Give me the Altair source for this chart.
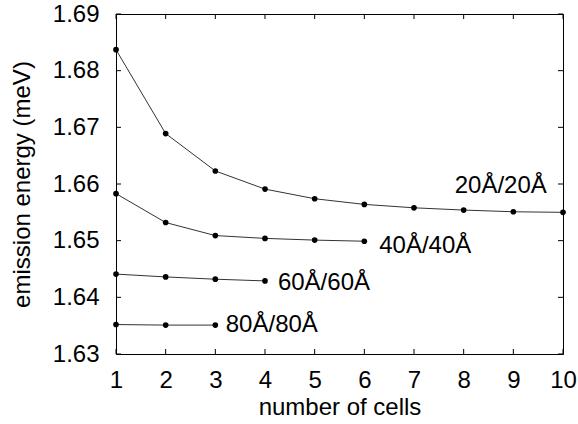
import altair as alt
import pandas as pd

# data
cells_20 = [1, 2, 3, 4, 5, 6, 7, 8, 9, 10]
energy_20 = [1.6837, 1.6689, 1.6623, 1.6591, 1.6574, 1.6564, 1.6558, 1.6554, 1.6551, 1.6550]
cells_40 = [1, 2, 3, 4, 5, 6]
energy_40 = [1.6583, 1.6532, 1.6509, 1.6504, 1.6501, 1.6499]
cells_60 = [1, 2, 3, 4]
energy_60 = [1.6441, 1.6436, 1.6432, 1.6429]
cells_80 = [1, 2, 3]
energy_80 = [1.6352, 1.6351, 1.6351]

series_names = ["20Å/20Å", "40Å/40Å", "60Å/60Å", "80Å/80Å"]
label_x = [7.82, 6.30, 4.26, 3.21]
label_y = [1.6584, 1.6478, 1.6413, 1.6338]

x_ticks = [1, 2, 3, 4, 5, 6, 7, 8, 9, 10]
y_ticks = [1.63, 1.64, 1.65, 1.66, 1.67, 1.68, 1.69]

rows = []
for name, xs, ys in zip(series_names,
                        [cells_20, cells_40, cells_60, cells_80],
                        [energy_20, energy_40, energy_60, energy_80]):
    for xv, yv in zip(xs, ys):
        rows.append({"series": name, "cells": xv, "energy": yv})
df = pd.DataFrame(rows)
labels = pd.DataFrame({"series": series_names, "x": label_x, "y": label_y})
xt = pd.DataFrame({"xt": x_ticks})
yt = pd.DataFrame({"yt": y_ticks})

FONT = "Liberation Sans"
FS = 24
W, H, TL = 447, 340, 5
xscale = alt.Scale(domain=[1, 10], nice=False, zero=False)
yscale = alt.Scale(domain=[1.63, 1.69], nice=False, zero=False)

x_axis = alt.Axis(orient="bottom", values=x_ticks, ticks=False, domain=False, grid=False,
                  labelFontSize=FS, labelFont=FONT, labelColor="black", labelFlush=False,
                  labelOverlap=False, labelPadding=14, labelBaseline="top",
                  title="number of cells", titleFont=FONT, titleFontSize=FS,
                  titleFontWeight="normal", titleColor="black",
                  titleBaseline="alphabetic", titleY=60)
y_axis = alt.Axis(orient="left", values=y_ticks, ticks=False, domain=False, grid=False,
                  labelFontSize=FS, labelFont=FONT, labelColor="black", labelFlush=False,
                  labelOverlap=False, labelPadding=17, format=".2f",
                  title="emission energy (meV)", titleFont=FONT, titleFontSize=FS,
                  titleFontWeight="normal", titleColor="black", titleAngle=270,
                  titleBaseline="alphabetic", titleAlign="center", titleX=-87, titleY=170)

lines = alt.Chart(df).mark_line(color="#333333", strokeWidth=1).encode(
    x=alt.X("cells:Q", scale=xscale, axis=x_axis),
    y=alt.Y("energy:Q", scale=yscale, axis=y_axis),
    detail="series:N",
)
points = alt.Chart(df).mark_circle(color="black", size=32, opacity=1).encode(
    x=alt.X("cells:Q", scale=xscale),
    y=alt.Y("energy:Q", scale=yscale),
)
texts = alt.Chart(labels).mark_text(align="left", baseline="alphabetic", font=FONT,
                                    fontSize=FS, color="black").encode(
    x=alt.X("x:Q", scale=xscale),
    y=alt.Y("y:Q", scale=yscale),
    text="series:N",
)

# inward ticks on all four sides
tick_style = dict(color="black", strokeWidth=1)
xt_bottom = alt.Chart(xt).mark_rule(**tick_style).encode(
    x=alt.X("xt:Q", scale=xscale), y=alt.value(H), y2=alt.value(H - TL))
xt_top = alt.Chart(xt).mark_rule(**tick_style).encode(
    x=alt.X("xt:Q", scale=xscale), y=alt.value(0), y2=alt.value(TL))
yt_left = alt.Chart(yt).mark_rule(**tick_style).encode(
    y=alt.Y("yt:Q", scale=yscale), x=alt.value(0), x2=alt.value(TL))
yt_right = alt.Chart(yt).mark_rule(**tick_style).encode(
    y=alt.Y("yt:Q", scale=yscale), x=alt.value(W), x2=alt.value(W - TL))

chart = alt.layer(lines, points, texts, xt_bottom, xt_top, yt_left, yt_right).properties(
    width=W, height=H,
    autosize=alt.AutoSizeParams(type="none"),
    padding={"left": 116, "top": 14, "right": 15, "bottom": 70},
    background="white",
).configure_view(stroke="black", strokeWidth=1)

chart.save("out.html", embed_options={"renderer": "svg", "actions": False})
